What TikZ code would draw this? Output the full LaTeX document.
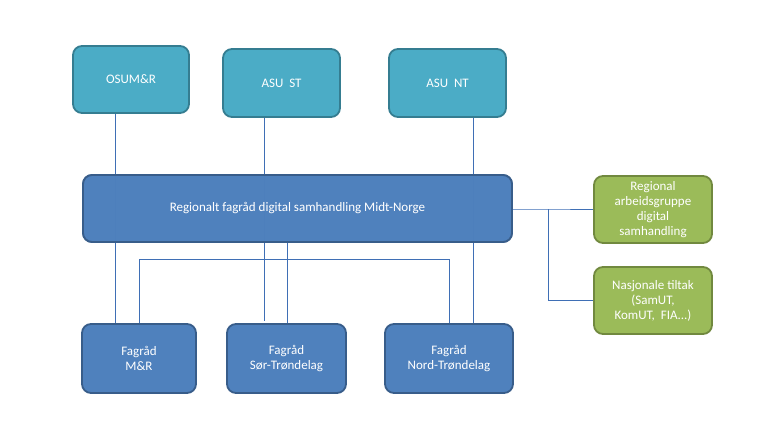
\documentclass[tikz,border=0pt]{standalone}
\usepackage{fontspec}
\setmainfont{Carlito}
\begin{document}
\begin{tikzpicture}[x=1pt,y=-1pt,
  box/.style={rectangle,rounded corners=9pt,line width=1.8pt,text=white,align=center,font=\fontsize{13}{15}\selectfont,inner sep=2pt},
  teal/.style={box,fill=tealfill,draw=tealdraw},
  blue/.style={box,fill=bluefill,draw=bluedraw},
  green/.style={box,fill=greenfill,draw=greendraw},
  conn/.style={draw=linecol,line width=0.8pt}]
\definecolor{tealfill}{HTML}{4BACC6}
\definecolor{tealdraw}{HTML}{357D91}
\definecolor{bluefill}{HTML}{4F81BD}
\definecolor{bluedraw}{HTML}{385D8A}
\definecolor{greenfill}{HTML}{9BBB59}
\definecolor{greendraw}{HTML}{71893F}
\definecolor{linecol}{HTML}{3F6FB5}
\useasboundingbox (0,0) rectangle (770,445);
% nodes
\node[teal,minimum width=116pt,minimum height=67pt] (osum) at (131,79.5) {OSUM\&R};
\node[teal,minimum width=117pt,minimum height=68pt] (asust) at (281.5,83) {ASU\ \ ST};
\node[teal,minimum width=117pt,minimum height=68pt] (asunt) at (447.5,83) {ASU\ \ NT};
\node[blue,minimum width=429pt,minimum height=67pt] (reg) at (297.5,208.5) {Regionalt fagråd digital samhandling Midt-Norge};
\node[green,minimum width=118pt,minimum height=67pt] (g1) at (653,209.5) {Regional\\arbeidsgruppe\\digital\\samhandling};
\node[green,minimum width=118pt,minimum height=67pt] (g2) at (653,300.5) {Nasjonale tiltak\\(SamUT,\\KomUT, \ FIA...)};
\node[blue,minimum width=114pt,minimum height=69pt] (fmr) at (139,358.5) {Fagråd\\M\&R};
\node[blue,minimum width=119pt,minimum height=69pt] (fst) at (286.5,358.5) {Fagråd\\Sør-Trøndelag};
\node[blue,minimum width=128pt,minimum height=69pt] (fnt) at (449,358.5) {Fagråd\\Nord-Trøndelag};
% coordinates
\coordinate (sEnd) at (264,321);
\coordinate (hL) at (139,259);
\coordinate (hR) at (449,259);
\coordinate (br1) at (548,209);
\coordinate (br2) at (548,300);
% connectors
\draw[conn] (osum.south -| 115,0) -- (fmr.north -| 115,0);
\draw[conn] (asust.south -| sEnd) -- (sEnd);
\draw[conn] (reg.south -| 287,0) -- (fst.north -| 287,0);
\draw[conn] (asunt.south -| 473,0) -- (fnt.north -| 473,0);
\draw[conn] (fmr.north -| hL) -- (hL) -- (hR) -- (fnt.north -| hR);
\draw[conn] (reg.east |- br1) -- (br1) -- (g1.west |- br1);
\draw[conn] (br1) -- (br2) -- (g2.west |- br2);
% regional box redrawn above the lines
\node[blue,minimum width=429pt,minimum height=67pt,fill opacity=0.93,text opacity=1] (regtop) at (reg) {Regionalt fagråd digital samhandling Midt-Norge};
\end{tikzpicture}
\end{document}
